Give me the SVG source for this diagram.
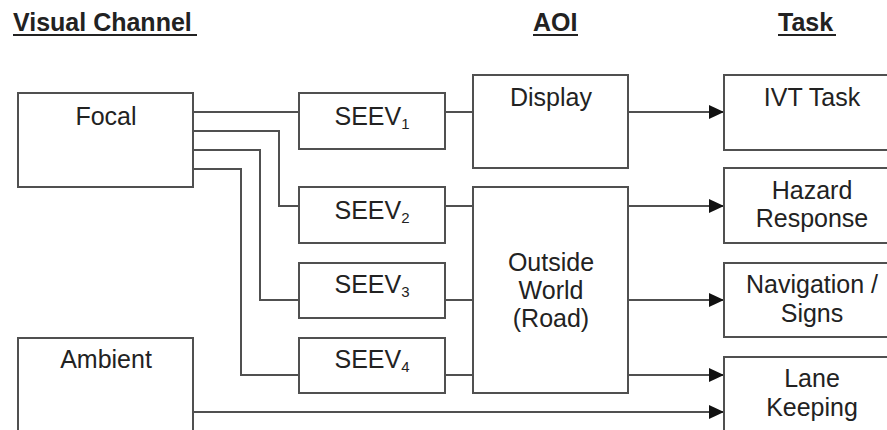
<svg xmlns="http://www.w3.org/2000/svg" width="887" height="430" viewBox="0 0 887 430">
<defs>
<style>
.box{fill:#fff;stroke:#505050;stroke-width:2}
.t{font-family:"Liberation Sans",Arial,sans-serif;font-size:25px;fill:#222;text-anchor:middle}
.sub{font-size:15px}
.h{font-family:"Liberation Sans",Arial,sans-serif;font-size:25px;font-weight:bold;fill:#222}
.ul{stroke:#222;stroke-width:2}
.c{fill:none;stroke:#505050;stroke-width:2}
</style>
<marker id="arr" markerWidth="16" markerHeight="14" refX="15" refY="7" orient="auto" markerUnits="userSpaceOnUse">
<path d="M0,0 L15,7 L0,14 Z" fill="#111"/>
</marker>
</defs>
<rect width="887" height="430" fill="#fff"/>
<g id="headings">
<text class="h" x="13" y="31">Visual Channel</text>
<line class="ul" x1="13" y1="35" x2="197" y2="35"/>
<text class="h" x="533" y="31">AOI</text>
<line class="ul" x1="533" y1="35" x2="578" y2="35"/>
<text class="h" x="778" y="31">Task</text>
<line class="ul" x1="778" y1="35" x2="836" y2="35"/>
</g>
<g id="connectors">
<path class="c" d="M193,112 H299"/>
<path class="c" d="M193,131 H279 V206 H299"/>
<path class="c" d="M193,150 H260 V300 H299"/>
<path class="c" d="M193,169 H241 V375 H299"/>
<path class="c" d="M445,112 H473"/>
<path class="c" d="M445,206 H473"/>
<path class="c" d="M445,300 H473"/>
<path class="c" d="M445,375 H473"/>
<path class="c" d="M628,112 H724" marker-end="url(#arr)"/>
<path class="c" d="M628,206 H724" marker-end="url(#arr)"/>
<path class="c" d="M628,300 H724" marker-end="url(#arr)"/>
<path class="c" d="M628,375 H724" marker-end="url(#arr)"/>
<path class="c" d="M193,412 H724" marker-end="url(#arr)"/>
</g>
<g id="focal">
<rect class="box" x="18" y="93" width="175" height="94"/>
<text class="t" x="106" y="125">Focal</text>
</g>
<g id="ambient">
<rect class="box" x="18" y="338" width="175" height="110"/>
<text class="t" x="106" y="368">Ambient</text>
</g>
<g id="seev1">
<rect class="box" x="299" y="93" width="146" height="56"/>
<text class="t" x="372" y="125">SEEV<tspan class="sub" dy="4">1</tspan></text>
</g>
<g id="seev2">
<rect class="box" x="299" y="187" width="146" height="56"/>
<text class="t" x="372" y="219">SEEV<tspan class="sub" dy="4">2</tspan></text>
</g>
<g id="seev3">
<rect class="box" x="299" y="263" width="146" height="55"/>
<text class="t" x="372" y="293">SEEV<tspan class="sub" dy="4">3</tspan></text>
</g>
<g id="seev4">
<rect class="box" x="299" y="338" width="146" height="55"/>
<text class="t" x="372" y="368">SEEV<tspan class="sub" dy="4">4</tspan></text>
</g>
<g id="display">
<rect class="box" x="473" y="75" width="155" height="93"/>
<text class="t" x="551" y="106">Display</text>
</g>
<g id="outside">
<rect class="box" x="473" y="187" width="155" height="206"/>
<text class="t" x="551" y="271">Outside</text>
<text class="t" x="551" y="299">World</text>
<text class="t" x="551" y="327">(Road)</text>
</g>
<g id="ivt">
<rect class="box" x="724" y="75" width="177" height="75"/>
<text class="t" x="812" y="106">IVT Task</text>
</g>
<g id="hazard">
<rect class="box" x="724" y="168" width="177" height="75"/>
<text class="t" x="812" y="199">Hazard</text>
<text class="t" x="812" y="227">Response</text>
</g>
<g id="navigation">
<rect class="box" x="724" y="263" width="177" height="74"/>
<text class="t" x="812" y="293">Navigation /</text>
<text class="t" x="812" y="322">Signs</text>
</g>
<g id="lane">
<rect class="box" x="724" y="357" width="177" height="90"/>
<text class="t" x="812" y="387">Lane</text>
<text class="t" x="812" y="416">Keeping</text>
</g>
</svg>
